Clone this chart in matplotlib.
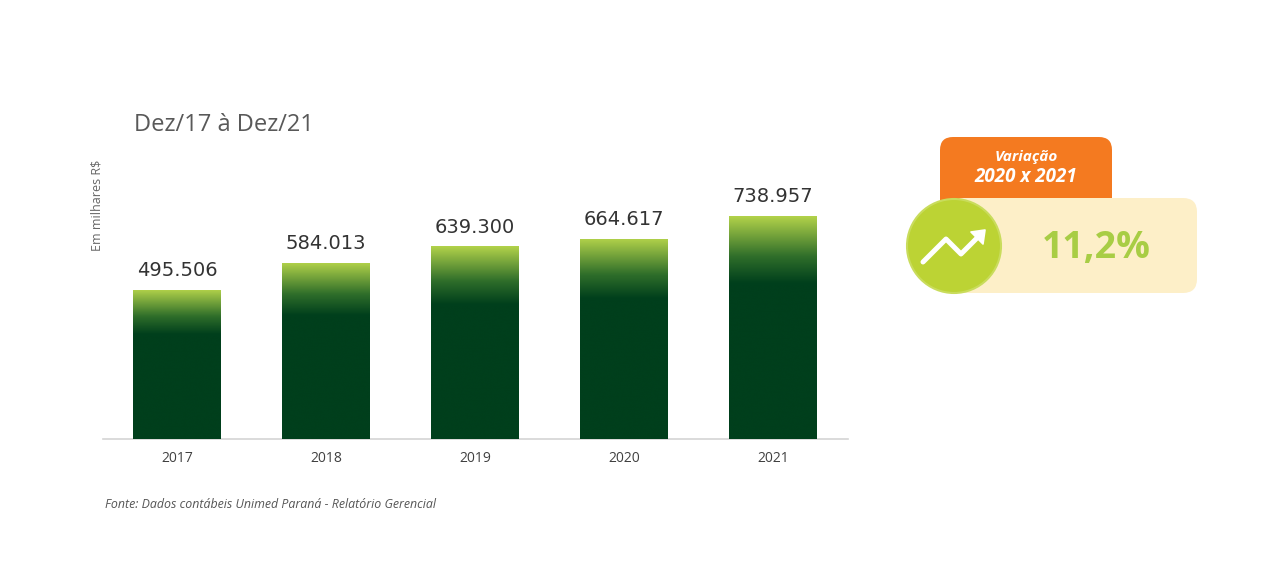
import numpy as np
import matplotlib
matplotlib.use("Agg")
import matplotlib.pyplot as plt
from matplotlib.colors import LinearSegmentedColormap
from matplotlib.patches import FancyBboxPatch, Circle

years = ["2017", "2018", "2019", "2020", "2021"]
values = [495.506, 584.013, 639.300, 664.617, 738.957]
labels = ["495.506", "584.013", "639.300", "664.617", "738.957"]
title = "Dez/17 à Dez/21"
ylabel = "Em milhares R$"
source = "Fonte: Dados contábeis Unimed Paraná - Relatório Gerencial"
var_title = "Variação"
var_period = "2020 x 2021"
var_value = "11,2%"

plt.rcParams['font.family'] = ['Open Sans', 'DejaVu Sans']

W, H = 1280, 567
fig = plt.figure(figsize=(W / 100, H / 100), dpi=100)
fig.patch.set_facecolor("white")

ax_l, ax_r, ax_b, ax_t = 102.5, 847.5, 439, 180
ax = fig.add_axes([ax_l / W, 1 - ax_b / H, (ax_r - ax_l) / W, (ax_b - ax_t) / H])
ymax = (ax_b - ax_t) / 0.3015
ax.set_xlim(-0.5, 4.5)
ax.set_ylim(0, ymax)
for s in ["top", "right", "left"]:
    ax.spines[s].set_visible(False)
ax.spines["bottom"].set_color("#d4d4d4")
ax.spines["bottom"].set_linewidth(1.2)
ax.set_yticks([])
x = np.arange(len(years))
ax.set_xticks(x)
ax.set_xticklabels(years, fontsize=10, color="#404040")
ax.tick_params(axis="x", length=0, pad=9)

cmap = LinearSegmentedColormap.from_list(
    "g", [(0.0, "#003f1c"), (0.70, "#003f1c"), (0.82, "#2f6e2a"), (1.0, "#b2d24a")])
bars = ax.bar(x, values, width=0.59, color="#003f1c", edgecolor="none", zorder=2)
grad = np.linspace(0, 1, 256).reshape(-1, 1)
for b in bars:
    x0, w, h = b.get_x(), b.get_width(), b.get_height()
    im = ax.imshow(grad, cmap=cmap, aspect="auto", origin="lower",
                   extent=[x0, x0 + w, 0, h], zorder=3, interpolation="bicubic")
    im.set_clip_path(b)
for xi, v, lab in zip(x, values, labels):
    ax.annotate(lab, (xi, v), xytext=(0, 7), textcoords="offset points",
                ha="center", va="bottom", fontsize=14, color="#333333",
                family=["DejaVu Sans"])
ax.set_xlim(-0.5, 4.5)
ax.set_ylim(0, ymax)

fig.text(134 / W, 1 - 125 / H, title, fontsize=17, color="#595959", va="center", ha="left")
fig.text(97 / W, 1 - 205 / H, ylabel, fontsize=9, color="#666666", rotation=90,
         va="center", ha="center")
fig.text(105 / W, 1 - 504 / H, source, fontsize=8.9, color="#555555", style="italic",
         va="center", ha="left")

# right panel (decorative, pixel coordinates)
ov = fig.add_axes([0, 0, 1, 1], zorder=5)
ov.set_xlim(0, W)
ov.set_ylim(H, 0)
ov.axis("off")
ov.patch.set_alpha(0)

ov.add_patch(FancyBboxPatch((940, 137), 172, 90, boxstyle="round,pad=0,rounding_size=13",
                            facecolor="#f47a20", edgecolor="none"))
ov.add_patch(FancyBboxPatch((950, 198), 247, 95, boxstyle="round,pad=0,rounding_size=14",
                            facecolor="#fdefc8", edgecolor="none"))
ov.add_patch(Circle((954, 246), 47, facecolor="#bcd334", edgecolor="#c9dc5c", linewidth=1.5))
ov.plot([923, 946, 961, 977], [262, 239, 254, 238], color="white", lw=3.6,
        solid_capstyle="round", solid_joinstyle="round")
ov.add_patch(plt.Polygon([[985, 230], [971, 232], [983, 244]], closed=True,
                         facecolor="white", edgecolor="white", lw=1.2, joinstyle="round"))
ov.text(1026, 157, var_title, fontsize=11, color="white", style="italic",
        fontweight="bold", ha="center", va="center")
ov.text(1026, 177, var_period, fontsize=13.5, color="white", style="italic",
        fontweight="bold", ha="center", va="center")
ov.text(1096, 248, var_value, fontsize=27, color="#a8cd45", fontweight="bold",
        ha="center", va="center")

fig.savefig("out.png", dpi=100, facecolor="white")
